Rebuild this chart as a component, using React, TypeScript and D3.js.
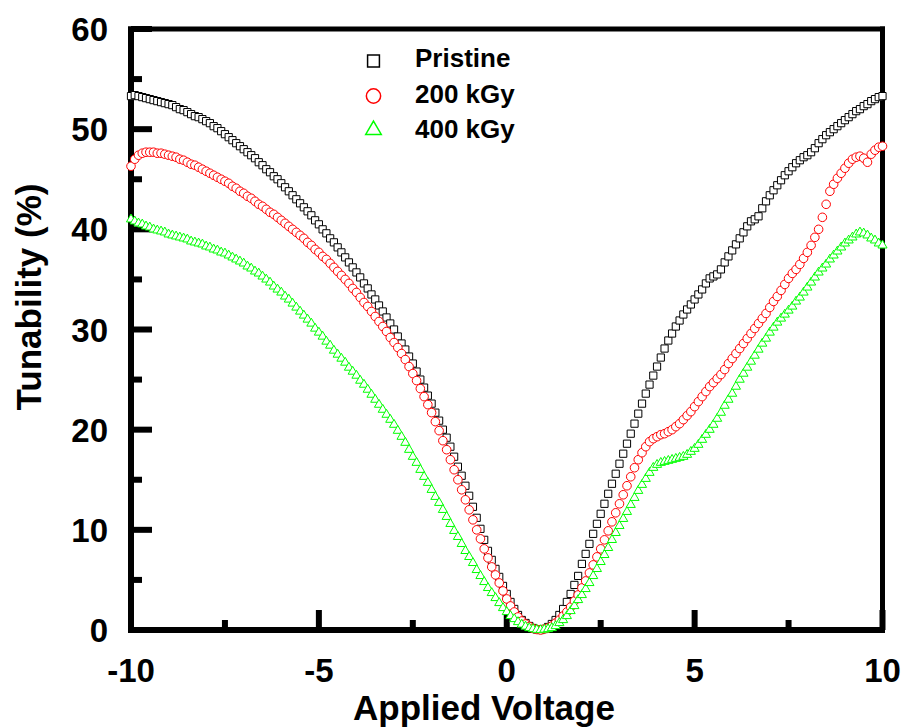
import React from "react";
import * as d3 from "d3";

// Applied voltage sweep: -10 V to +10 V in 0.1 V steps
const V_START = -10;
const V_STEP = 0.1;

const yTicksMajor = [0, 10, 20, 30, 40, 50, 60];
const yTicksMinor = [5, 15, 25, 35, 45, 55];
const xTicksMajor = [-10, -5, 0, 5, 10];
const xTicksMinor = [-7.5, -2.5, 2.5, 7.5];

const seriesNames = ["Pristine", "200 kGy", "400 kGy"];

const pristine = [
  53.3, 53.4, 53.3, 53.2, 53.1, 53.0, 52.9, 52.8, 52.7, 52.6,
  52.5, 52.4, 52.2, 52.0, 51.9, 51.7, 51.5, 51.3, 51.2, 51.0,
  50.8, 50.6, 50.3, 50.1, 49.8, 49.5, 49.2, 48.9, 48.6, 48.3,
  48.0, 47.7, 47.4, 47.1, 46.7, 46.4, 46.0, 45.7, 45.3, 45.0,
  44.6, 44.2, 43.8, 43.4, 43.0, 42.6, 42.2, 41.8, 41.4, 40.9,
  40.5, 40.0, 39.6, 39.1, 38.7, 38.2, 37.7, 37.2, 36.7, 36.2,
  35.7, 35.2, 34.6, 34.1, 33.5, 33.0, 32.4, 31.8, 31.2, 30.6,
  30.0, 29.3, 28.6, 28.0, 27.3, 26.6, 25.8, 25.0, 24.2, 23.4,
  22.6, 21.7, 20.9, 20.0, 19.2, 18.3, 17.3, 16.3, 15.4, 14.4,
  13.4, 12.3, 11.2, 10.1, 9.0, 7.9, 7.0, 6.1, 5.3, 4.4,
  3.6, 2.8, 2.1, 1.5, 1.0, 0.7, 0.4, 0.2, 0.05, 0.0,
  0.1, 0.3, 0.6, 1.0, 1.5, 2.1, 2.8, 3.6, 4.5, 5.4,
  6.6, 7.6, 8.6, 9.6, 10.6, 11.6, 12.6, 13.6, 14.6, 15.6,
  16.6, 17.6, 18.6, 19.6, 20.6, 21.6, 22.6, 23.6, 24.5, 25.4,
  26.3, 27.2, 28.1, 28.9, 29.6, 30.3, 30.9, 31.5, 32.0, 32.5,
  33.0, 33.5, 34.0, 34.6, 35.1, 35.3, 35.5, 36.0, 36.7, 37.3,
  37.9, 38.5, 39.1, 39.7, 40.3, 40.8, 41.0, 41.3, 42.1, 42.8,
  43.4, 43.9, 44.4, 44.9, 45.4, 45.8, 46.2, 46.6, 46.9, 47.2,
  47.4, 47.7, 48.1, 48.6, 49.0, 49.4, 49.7, 50.0, 50.3, 50.6,
  50.9, 51.2, 51.5, 51.8, 52.0, 52.3, 52.5, 52.8, 53.0, 53.2,
  53.3,
];

const kGy200 = [
  46.3, 47.0, 47.4, 47.6, 47.7, 47.7, 47.7, 47.6, 47.6, 47.5,
  47.4, 47.3, 47.2, 47.0, 46.9, 46.7, 46.5, 46.4, 46.2, 46.0,
  45.8, 45.6, 45.4, 45.2, 45.0, 44.8, 44.6, 44.3, 44.1, 43.8,
  43.6, 43.3, 43.1, 42.8, 42.5, 42.3, 42.0, 41.7, 41.5, 41.2,
  40.9, 40.6, 40.3, 40.0, 39.7, 39.4, 39.1, 38.7, 38.4, 38.0,
  37.7, 37.3, 37.0, 36.6, 36.2, 35.8, 35.4, 35.0, 34.6, 34.1,
  33.7, 33.2, 32.7, 32.3, 31.8, 31.3, 30.8, 30.3, 29.8, 29.2,
  28.7, 28.2, 27.6, 27.0, 26.3, 25.6, 24.9, 24.1, 23.3, 22.5,
  21.7, 20.8, 19.9, 18.9, 18.0, 17.0, 16.0, 15.0, 14.0, 13.0,
  12.0, 11.0, 10.0, 9.1, 8.1, 7.2, 6.3, 5.5, 4.7, 3.9,
  3.1, 2.4, 1.8, 1.3, 0.9, 0.6, 0.35, 0.15, 0.05, 0.0,
  0.1, 0.2, 0.4, 0.7, 1.0, 1.4, 1.8, 2.3, 2.9, 3.5,
  4.2, 4.9, 5.7, 6.5, 7.3, 8.1, 9.0, 9.9, 10.8, 11.7,
  12.6, 13.5, 14.4, 15.3, 16.2, 17.0, 17.7, 18.3, 18.8, 19.1,
  19.3, 19.5, 19.6, 19.8, 20.0, 20.3, 20.6, 21.0, 21.4, 21.8,
  22.3, 22.8, 23.3, 23.8, 24.3, 24.7, 25.1, 25.5, 26.0, 26.6,
  27.1, 27.6, 28.1, 28.6, 29.1, 29.6, 30.1, 30.6, 31.1, 31.6,
  32.2, 32.8, 33.3, 33.9, 34.5, 35.1, 35.6, 36.0, 36.5, 37.1,
  37.7, 38.4, 39.2, 40.0, 41.2, 42.5, 43.8, 44.5, 45.1, 45.6,
  46.1, 46.6, 47.0, 47.2, 47.3, 47.1, 46.7, 47.5, 47.9, 48.2,
  48.3,
];

const kGy400 = [
  41.0, 40.8, 40.6, 40.5, 40.3, 40.2, 40.0, 39.9, 39.8, 39.7,
  39.5, 39.4, 39.3, 39.2, 39.1, 39.0, 38.8, 38.7, 38.6, 38.5,
  38.3, 38.2, 38.0, 37.9, 37.7, 37.6, 37.4, 37.2, 37.0, 36.8,
  36.6, 36.3, 36.1, 35.8, 35.6, 35.3, 35.0, 34.7, 34.3, 34.0,
  33.7, 33.3, 33.0, 32.6, 32.2, 31.8, 31.4, 31.0, 30.6, 30.1,
  29.7, 29.3, 28.8, 28.4, 27.9, 27.5, 27.1, 26.7, 26.2, 25.8,
  25.4, 24.9, 24.5, 24.0, 23.5, 23.0, 22.5, 22.0, 21.5, 21.0,
  20.5, 19.9, 19.3, 18.7, 18.0, 17.3, 16.7, 16.0, 15.3, 14.7,
  14.0, 13.3, 12.7, 12.0, 11.3, 10.6, 9.9, 9.3, 8.6, 7.9,
  7.3, 6.7, 6.0, 5.4, 4.8, 4.2, 3.7, 3.2, 2.7, 2.2,
  1.8, 1.4, 1.1, 0.8, 0.55, 0.35, 0.2, 0.1, 0.03, 0.0,
  0.05, 0.1, 0.2, 0.4, 0.7, 1.0, 1.4, 1.9, 2.4, 3.0,
  3.5, 4.1, 4.7, 5.4, 6.1, 6.8, 7.5, 8.2, 9.0, 9.7,
  10.4, 11.1, 11.8, 12.5, 13.2, 13.9, 14.5, 15.1, 15.7, 16.2,
  16.5, 16.7, 16.8, 16.9, 17.0, 17.1, 17.2, 17.3, 17.5, 17.8,
  18.1, 18.5, 19.0, 19.5, 20.0, 20.5, 21.1, 21.7, 22.4, 23.0,
  23.6, 24.3, 25.0, 25.6, 26.2, 26.8, 27.4, 28.0, 28.6, 29.1,
  29.7, 30.2, 30.7, 31.1, 31.5, 31.9, 32.3, 32.8, 33.2, 33.7,
  34.2, 34.7, 35.2, 35.7, 36.1, 36.5, 37.0, 37.4, 37.8, 38.2,
  38.6, 38.9, 39.2, 39.5, 39.7, 39.6, 39.4, 39.1, 38.9, 38.6,
  38.4,
];

const W = 904;
const H = 727;
const FONT = "'Liberation Sans', Arial, Helvetica, sans-serif";

const x = d3.scaleLinear().domain([-10, 10]).range([131, 882.5]);
const y = d3.scaleLinear().domain([0, 60]).range([630, 29]);

const volt = (i: number) => +(V_START + i * V_STEP).toFixed(2);

const squarePath = d3.symbol().type(d3.symbolSquare).size(52)() as string;
const circlePath = d3.symbol().type(d3.symbolCircle).size(58)() as string;
const trianglePath = d3.symbol().type(d3.symbolTriangle).size(36)() as string;

const legSquare = d3.symbol().type(d3.symbolSquare).size(140)() as string;
const legCircle = d3.symbol().type(d3.symbolCircle).size(160)() as string;
const legTriangle = d3.symbol().type(d3.symbolTriangle).size(105)() as string;

const series = [
  { name: seriesNames[0], values: pristine, color: "#000000", path: squarePath, leg: legSquare },
  { name: seriesNames[1], values: kGy200, color: "#ff0000", path: circlePath, leg: legCircle },
  { name: seriesNames[2], values: kGy400, color: "#00ff00", path: trianglePath, leg: legTriangle },
];

export default function App() {
  const x0 = x(-10);
  const x1 = x(10);
  const y0 = y(0);
  const y1 = y(60);
  return (
    <svg
      width={W}
      height={H}
      viewBox={`0 0 ${W} ${H}`}
      style={{ position: "absolute", left: 0, top: 0, background: "#fff" }}
      fontFamily={FONT}
    >
      <rect x={0} y={0} width={W} height={H} fill="#fff" />
      {/* ticks */}
      {yTicksMajor.map((t) => (
        <line key={"ym" + t} x1={x0} x2={x0 + 21} y1={y(t)} y2={y(t)} stroke="#000" strokeWidth={6} />
      ))}
      {yTicksMinor.map((t) => (
        <line key={"yn" + t} x1={x0} x2={x0 + 11} y1={y(t)} y2={y(t)} stroke="#000" strokeWidth={6} />
      ))}
      {xTicksMajor.map((t) => (
        <line key={"xm" + t} x1={x(t)} x2={x(t)} y1={y0} y2={y0 - 20} stroke="#000" strokeWidth={6} />
      ))}
      {xTicksMinor.map((t) => (
        <line key={"xn" + t} x1={x(t)} x2={x(t)} y1={y0} y2={y0 - 10} stroke="#000" strokeWidth={6} />
      ))}
      {/* frame */}
      <line x1={x0 - 3} x2={x1 + 2.5} y1={y1} y2={y1} stroke="#000" strokeWidth={5} />
      <line x1={x0 - 3} x2={x1 + 2.5} y1={y0} y2={y0} stroke="#000" strokeWidth={6} />
      <line x1={x0} x2={x0} y1={y1 - 2.5} y2={y0 + 3} stroke="#000" strokeWidth={6} />
      <line x1={x1} x2={x1} y1={y1 - 2.5} y2={y0 + 3} stroke="#000" strokeWidth={5} />

      {/* data markers */}
      {series.map((s) => (
        <g key={s.name}>
          {s.values.map((v, i) => (
            <path
              key={i}
              d={s.path}
              transform={`translate(${x(volt(i))},${y(v)})`}
              fill="#fff"
              stroke={s.color}
              strokeWidth={1}
            />
          ))}
        </g>
      ))}

      {/* tick labels */}
      {yTicksMajor.map((t) => (
        <text key={"yl" + t} x={108} y={y(t) + 12} textAnchor="end" fontSize={33} fontWeight="bold">
          {t}
        </text>
      ))}
      {xTicksMajor.map((t) => (
        <text key={"xl" + t} x={x(t)} y={682} textAnchor="middle" fontSize={33} fontWeight="bold">
          {t}
        </text>
      ))}

      {/* axis titles */}
      <text x={484} y={720} textAnchor="middle" fontSize={35} fontWeight="bold">
        Applied Voltage
      </text>
      <text
        transform="translate(41,297) rotate(-90)"
        textAnchor="middle"
        fontSize={35}
        fontWeight="bold"
      >
        Tunability (%)
      </text>

      {/* legend */}
      {series.map((s, i) => {
        const cy = [61, 96, 130][i];
        const by = [67, 103, 138][i];
        return (
          <g key={"lg" + s.name}>
            <path d={s.leg} transform={`translate(373.5,${cy})`} fill="#fff" stroke={s.color} strokeWidth={1.5} />
            <text x={415} y={by} fontSize={26} fontWeight="bold">
              {s.name}
            </text>
          </g>
        );
      })}
    </svg>
  );
}
